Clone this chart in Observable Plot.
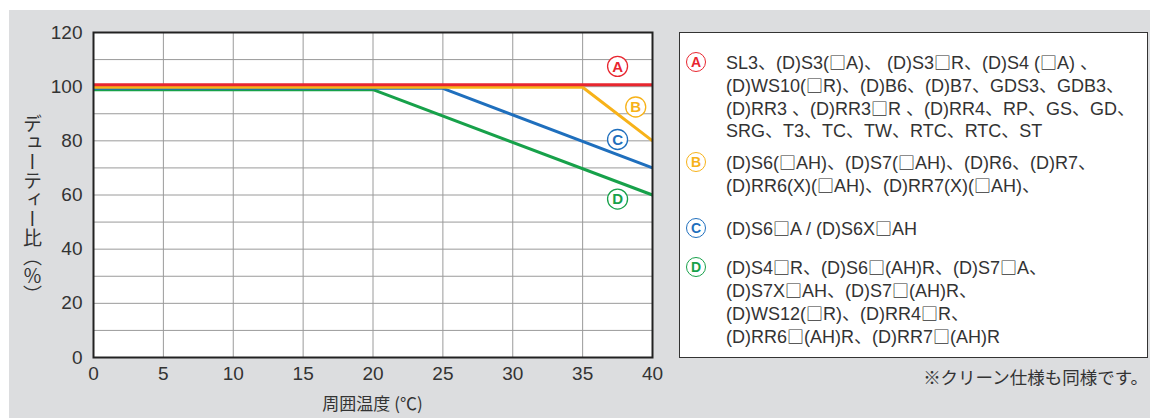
<!DOCTYPE html>
<html><head><meta charset="utf-8">
<script src="https://cdn.jsdelivr.net/npm/d3@7"></script>
<script src="https://cdn.jsdelivr.net/npm/@observablehq/plot@0.6"></script>
<style>
body{margin:0;}
#page{position:relative;width:1150px;height:418px;background:#fff;overflow:hidden;font-family:"Liberation Sans","Noto Sans CJK JP",sans-serif;color:#333;}
#bg{position:absolute;left:9px;top:10px;right:0;bottom:0;background:#dcdddf;}
#chart{position:absolute;left:0;top:0;}
#ylabel{position:absolute;left:21px;top:114px;writing-mode:vertical-rl;font-family:"Noto Sans CJK JP",sans-serif;font-size:19px;line-height:22px;color:#333;}
#xlabel{position:absolute;left:0;width:745px;top:390px;text-align:center;font-family:"Noto Sans CJK JP",sans-serif;font-size:17px;color:#333;}
#legend{position:absolute;left:679px;top:32px;width:469px;height:326px;background:#fff;border:1px solid #333;box-sizing:border-box;}
.grp{position:absolute;left:0;width:460px;}
.mk{position:absolute;left:6px;top:1px;width:20px;height:20px;border:1.3px solid;border-radius:50%;box-sizing:border-box;font-family:"Liberation Sans",sans-serif;font-size:14px;line-height:18px;text-align:center;font-weight:bold;}
.tx{position:absolute;left:46px;top:0;white-space:nowrap;font-size:18px;line-height:22px;color:#333;}
.sq{font-family:"Noto Sans CJK JP",sans-serif;font-size:17px;}
#note{position:absolute;right:2px;top:364px;font-family:"Noto Sans CJK JP",sans-serif;font-size:17.5px;color:#333;}
</style>
</head><body>
<div id="page">
  <div id="bg"></div>
  <div id="chart"></div>
  <div id="ylabel"></div>
  <div id="xlabel"></div>
  <div id="legend"></div>
  <div id="note"></div>
</div>
<script>
// ---- data ----
const seriesKeys = ["A", "B", "C", "D"];
const seriesColors = ["#e8262f", "#f7b219", "#1f6fbd", "#17a14a"];
const flatDuty = [100.7, 99.8, 99.4, 98.9];   // duty ratio before derating (%)
const breakTemp = [40, 35, 25, 20];            // temperature where derating starts (℃)
const endDuty = [100.7, 80, 70, 60];           // duty ratio at 40 ℃ (%)
const tempMin = 0, tempMax = 40;
const labelTemp = [37.5, 38.8, 37.5, 37.5];
const labelDuty = [107.5, 92.5, 80.5, 58.5];
const xTicks = [0, 5, 10, 15, 20, 25, 30, 35, 40];
const yTicks = [0, 20, 40, 60, 80, 100, 120];
const xGrid = [5, 10, 15, 20, 25, 30, 35];
const yGrid = [10, 20, 30, 40, 50, 60, 70, 80, 90, 100, 110];
const xTitle = "周囲温度 (℃)";
const yTitle = "デューティー比（％）";
const note = "※クリーン仕様も同様です。";
const legendA = ["SL3、(D)S3(□A)、 (D)S3□R、(D)S4 (□A) 、", "(D)WS10(□R)、(D)B6、(D)B7、GDS3、GDB3、", "(D)RR3 、(D)RR3□R 、(D)RR4、RP、GS、GD、", "SRG、T3、TC、TW、RTC、RTC、ST"];
const legendB = ["(D)S6(□AH)、(D)S7(□AH)、(D)R6、(D)R7、", "(D)RR6(X)(□AH)、(D)RR7(X)(□AH)、"];
const legendC = ["(D)S6□A / (D)S6X□AH"];
const legendD = ["(D)S4□R、(D)S6□(AH)R、(D)S7□A、", "(D)S7X□AH、(D)S7□(AH)R、", "(D)WS12(□R)、(D)RR4□R、", "(D)RR6□(AH)R、(D)RR7□(AH)R"];
const legendTexts = [legendA, legendB, legendC, legendD];
const legendTops = [18, 118, 184, 223];

// ---- build rows ----
const lineRows = [];
seriesKeys.forEach((k, i) => {
  lineRows.push({key: k, order: i, t: tempMin, d: flatDuty[i]});
  lineRows.push({key: k, order: i, t: breakTemp[i], d: flatDuty[i]});
  if (breakTemp[i] < tempMax) lineRows.push({key: k, order: i, t: tempMax, d: endDuty[i]});
});
const labelRows = seriesKeys.map((k, i) => ({key: k, t: labelTemp[i], d: labelDuty[i], c: seriesColors[i]}));

const drawOrder = [3, 2, 1, 0];
const lineMarks = drawOrder.map(i =>
  Plot.line(lineRows.filter(r => r.order === i), {x: "t", y: "d", stroke: seriesColors[i], strokeWidth: 3, strokeLinejoin: "miter", strokeLinecap: "butt"})
);

const chart = Plot.plot({
  width: 680,
  height: 418,
  marginLeft: 93,
  marginRight: 28,
  marginTop: 32,
  marginBottom: 61,
  style: {background: "transparent", fontFamily: "Liberation Sans, Noto Sans CJK JP, sans-serif", color: "#333"},
  x: {domain: [tempMin, tempMax]},
  y: {domain: [0, 120]},
  marks: [
    Plot.frame({fill: "white", stroke: null}),
    Plot.ruleX(xGrid, {stroke: "#9a9a9a", strokeWidth: 1}),
    Plot.ruleY(yGrid, {stroke: "#9a9a9a", strokeWidth: 1}),
    ...lineMarks,
    Plot.dot(labelRows, {x: "t", y: "d", r: 10, fill: "white", stroke: "c", strokeWidth: 1.3}),
    Plot.text(labelRows, {x: "t", y: "d", text: "key", fill: "c", fontSize: 15, fontWeight: "bold", dy: 0.5}),
    Plot.frame({stroke: "#222", strokeWidth: 2}),
    Plot.axisX(xTicks, {tickSize: 0, tickPadding: 9, fontSize: 19, label: null, fill: "#333"}),
    Plot.axisY(yTicks, {tickSize: 0, tickPadding: 11, fontSize: 19, label: null, fill: "#333"})
  ]
});
document.getElementById("chart").appendChild(chart);

document.getElementById("ylabel").textContent = yTitle;
document.getElementById("xlabel").textContent = xTitle;
document.getElementById("note").textContent = note;

const esc = s => s.replace(/&/g, "&amp;").replace(/</g, "&lt;").replace(/□/g, '<span class="sq">□</span>');
const legend = document.getElementById("legend");
legendTexts.forEach((lines, i) => {
  const g = document.createElement("div");
  g.className = "grp";
  g.style.top = legendTops[i] + "px";
  const m = document.createElement("div");
  m.className = "mk";
  m.style.borderColor = seriesColors[i];
  m.style.color = seriesColors[i];
  m.textContent = seriesKeys[i];
  g.appendChild(m);
  const t = document.createElement("div");
  t.className = "tx";
  t.innerHTML = lines.map(esc).join("<br>");
  g.appendChild(t);
  legend.appendChild(g);
});
</script>
</body></html>
